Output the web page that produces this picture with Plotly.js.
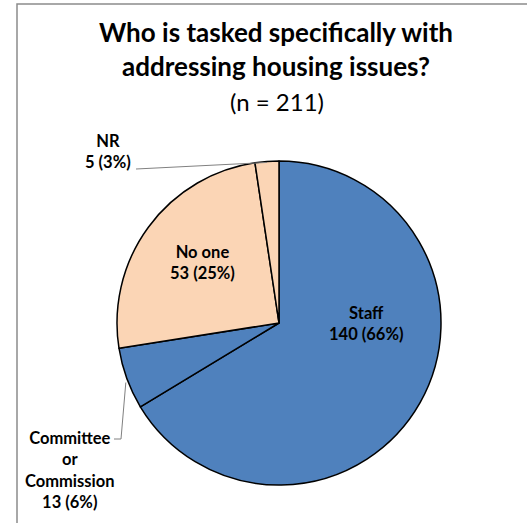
<!DOCTYPE html>
<html>
<head>
<meta charset="utf-8">
<script src="https://cdn.plot.ly/plotly-3.0.1.min.js"></script>
<style>html,body{margin:0;padding:0;background:#fff;}#chart{width:527px;height:523px;}</style>
</head>
<body>
<div id="chart"></div>
<script>
// Data
const categories = ["Staff", "Committee or Commission", "No one", "NR"];
const counts = [140, 13, 53, 5];
const percents = ["66%", "6%", "25%", "3%"];
const labelTexts = ["Staff<br>140 (66%)", "Committee<br>or<br>Commission<br>13 (6%)", "No one<br>53 (25%)", "NR<br>5 (3%)"];
const sliceColors = ["#4F81BD", "#4F81BD", "#FBD5B5", "#FBD5B5"];

// Layout geometry (pixels)
const W = 527, H = 523;
const cx = 279, cy = 323, R = 162;
const px = x => x / W;
const py = y => 1 - y / H;

const total = counts.reduce((a, b) => a + b, 0);
// angle (deg clockwise from top) at the middle of slice i
function midAngle(i) {
  let s = 0;
  for (let k = 0; k < i; k++) s += counts[k];
  return (s + counts[i] / 2) / total * 360;
}
function edgePoint(i, r) {
  const a = midAngle(i) * Math.PI / 180;
  return [cx + r * Math.sin(a), cy - r * Math.cos(a)];
}

const trace = {
  type: "pie",
  labels: categories,
  values: counts,
  sort: false,
  direction: "clockwise",
  rotation: 0,
  textinfo: "none",
  hoverinfo: "label+value+percent",
  marker: { colors: sliceColors, line: { color: "#000000", width: 1.5 } },
  domain: { x: [px(cx - R), px(cx + R)], y: [py(cy + R), py(cy - R)] },
  showlegend: false
};

const lblFont = { family: "Lato, 'Open Sans', sans-serif", size: 16.5, color: "#000" };

const nrPt = edgePoint(3, R);
const comPt = edgePoint(1, R);

const layout = {
  width: W, height: H,
  margin: { l: 0, r: 0, t: 0, b: 0 },
  paper_bgcolor: "#ffffff",
  title: {
    text: "<b>Who is tasked specifically with</b><br><b>addressing housing issues?</b>",
    font: { family: "Lato, 'Open Sans', sans-serif", size: 26, color: "#000" },
    x: px(276), xanchor: "center", xref: "paper",
    y: py(42), yanchor: "middle", yref: "paper"
  },
  annotations: [
    { text: "(n = 211)", x: px(277), y: py(101), xref: "paper", yref: "paper", showarrow: false,
      font: { family: "Lato, 'Open Sans', sans-serif", size: 24, color: "#000" }, xanchor: "center", yanchor: "middle" },
    { text: "<b>" + labelTexts[0] + "</b>", x: px(366), y: py(323), xref: "paper", yref: "paper", showarrow: false,
      font: lblFont, xanchor: "center", yanchor: "middle" },
    { text: "<b>" + labelTexts[2] + "</b>", x: px(202), y: py(262), xref: "paper", yref: "paper", showarrow: false,
      font: lblFont, xanchor: "center", yanchor: "middle" },
    { text: "<b>" + labelTexts[3] + "</b>", x: px(108), y: py(151), xref: "paper", yref: "paper", showarrow: false,
      font: lblFont, xanchor: "center", yanchor: "middle" },
    { text: "<b>" + labelTexts[1] + "</b>", x: px(70), y: py(470), xref: "paper", yref: "paper", showarrow: false,
      font: lblFont, xanchor: "center", yanchor: "middle" }
  ],
  shapes: [
    { type: "path", xref: "paper", yref: "paper",
      path: "M " + px(17) + " " + py(530) + " L " + px(17) + " " + py(4) + " L " + px(540) + " " + py(4),
      line: { color: "#8c8c8c", width: 1.5 } },
    { type: "path", xref: "paper", yref: "paper",
      path: "M " + px(136) + " " + py(169) + " L " + px(nrPt[0]) + " " + py(nrPt[1] + 1),
      line: { color: "#808080", width: 1 } },
    { type: "path", xref: "paper", yref: "paper",
      path: "M " + px(114) + " " + py(439) + " L " + px(121) + " " + py(439) + " L " + px(comPt[0] - 1) + " " + py(comPt[1] + 4),
      line: { color: "#808080", width: 1 } }
  ]
};

Plotly.newPlot("chart", [trace], layout, { staticPlot: true, displayModeBar: false });
</script>
</body>
</html>
